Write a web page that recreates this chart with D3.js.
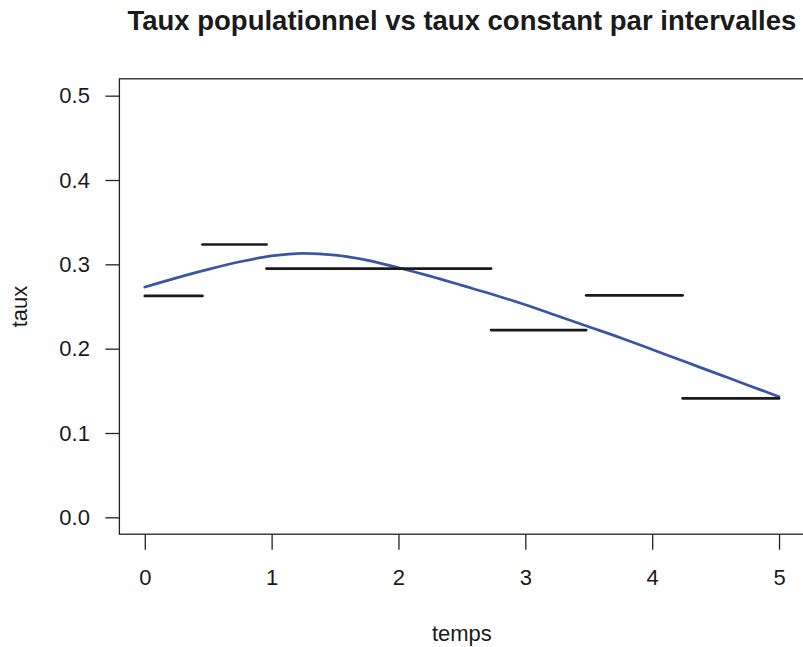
<!DOCTYPE html>
<html>
<head>
<meta charset="utf-8">
<script src="https://cdn.jsdelivr.net/npm/d3@7"></script>
<style>
  html, body { margin: 0; padding: 0; background: #ffffff; }
  svg { display: block; }
  text { font-family: "Liberation Sans", Arial, Helvetica, sans-serif; fill: #1a1a1a; }
</style>
</head>
<body>
<svg id="chart" width="803" height="647"></svg>
<script>
// ---- Data ----
const titleText = "Taux populationnel vs taux constant par intervalles";
const xLabel = "temps";
const yLabel = "taux";

// Population rate curve (blue)
const curveTimes = [0, 0.25, 0.5, 0.75, 1.0, 1.25, 1.5, 1.75, 2.0, 2.25, 2.5, 2.75, 3.0, 3.25, 3.5, 3.75, 4.0, 4.25, 4.5, 4.75, 5.0];
const curveRates = [0.273, 0.284, 0.294, 0.303, 0.310, 0.313, 0.311, 0.305, 0.296, 0.286, 0.275, 0.264, 0.252, 0.239, 0.226, 0.213, 0.199, 0.185, 0.171, 0.157, 0.143];

// Piecewise constant rates (black segments)
const breakStarts = [0, 0.455, 0.96, 2.73, 3.48, 4.24];
const breakEnds   = [0.455, 0.96, 2.73, 3.48, 4.24, 5.0];
const segRates    = [0.2625, 0.3235, 0.295, 0.222, 0.2633, 0.141];

const xTicks = [0, 1, 2, 3, 4, 5];
const yTicks = [0.0, 0.1, 0.2, 0.3, 0.4, 0.5];

// ---- Layout ----
const svg = d3.select("#chart");
const x = d3.scaleLinear().domain([-0.2, 5.2]).range([119.4, 804.4]);
const y = d3.scaleLinear().domain([-0.02, 0.52]).range([534.2, 78.8]);

const fontSize = 22;

// Plot box
svg.append("rect")
  .attr("x", x(-0.2)).attr("y", y(0.52))
  .attr("width", x(5.2) - x(-0.2)).attr("height", y(-0.02) - y(0.52))
  .attr("fill", "none").attr("stroke", "#222").attr("stroke-width", 1.3);

// X axis
const gx = svg.append("g")
  .attr("transform", `translate(0,${y(-0.02)})`)
  .call(d3.axisBottom(x).tickValues(xTicks).tickFormat(d3.format("d")).tickSize(15.5).tickPadding(20));
gx.select(".domain").remove();
gx.selectAll(".tick line").attr("stroke", "#222").attr("stroke-width", 1.3);
gx.selectAll(".tick text").attr("font-size", fontSize).attr("font-family", null).attr("fill", "#1a1a1a");

// Y axis
const gy = svg.append("g")
  .attr("transform", `translate(${x(-0.2)},0)`)
  .call(d3.axisLeft(y).tickValues(yTicks).tickFormat(d3.format(".1f")).tickSize(14).tickPadding(15.5));
gy.select(".domain").remove();
gy.selectAll(".tick line").attr("stroke", "#222").attr("stroke-width", 1.3);
gy.selectAll(".tick text").attr("font-size", fontSize).attr("font-family", null).attr("fill", "#1a1a1a");

// Blue curve
const curveData = curveTimes.map((t, i) => ({ t: t, r: curveRates[i] }));
svg.append("path")
  .datum(curveData)
  .attr("fill", "none")
  .attr("stroke", "#3A55A5")
  .attr("stroke-width", 2.7)
  .attr("stroke-linecap", "round")
  .attr("d", d3.line().x(d => x(d.t)).y(d => y(d.r)).curve(d3.curveMonotoneX));

// Black segments
const segData = segRates.map((r, i) => ({ a: breakStarts[i], b: breakEnds[i], r: r }));
svg.append("g").selectAll("line")
  .data(segData)
  .join("line")
  .attr("x1", d => x(d.a)).attr("x2", d => x(d.b))
  .attr("y1", d => y(d.r)).attr("y2", d => y(d.r))
  .attr("stroke", "#1a1a1a")
  .attr("stroke-width", 2.7)
  .attr("stroke-linecap", "round");

// Title
const cx = (x(-0.2) + x(5.2)) / 2;
svg.append("text")
  .attr("x", cx).attr("y", 30)
  .attr("text-anchor", "middle")
  .attr("font-size", 27.5)
  .attr("font-weight", "bold")
  .text(titleText);

// Axis labels
svg.append("text")
  .attr("x", cx).attr("y", 641)
  .attr("text-anchor", "middle")
  .attr("font-size", fontSize)
  .text(xLabel);

const cy = (y(-0.02) + y(0.52)) / 2;
svg.append("text")
  .attr("transform", `translate(27,${cy}) rotate(-90)`)
  .attr("text-anchor", "middle")
  .attr("font-size", fontSize)
  .text(yLabel);
</script>
</body>
</html>
